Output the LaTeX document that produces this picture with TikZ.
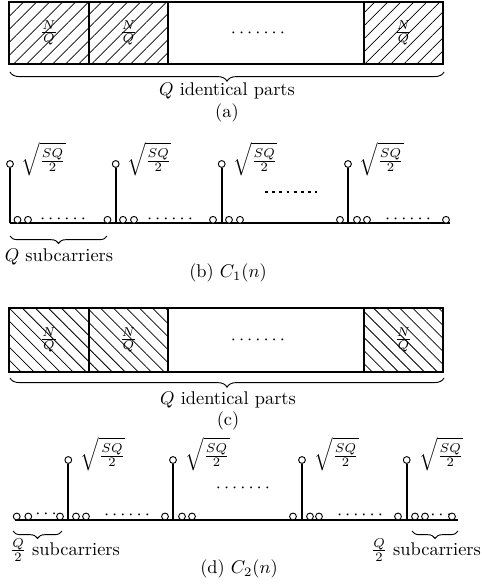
\documentclass[tikz,border=0pt]{standalone}
\usetikzlibrary{patterns.meta,decorations.pathreplacing}
\newcommand\mydotsseven{$\mathinner{\cdotp\cdotp\cdotp\cdotp\cdotp\cdotp\cdotp}$}
\newcommand\mydotssix{$\mathinner{\cdotp\cdotp\cdotp\cdotp\cdotp\cdotp}$}
\newcommand\mydotsthree{$\mathinner{\cdotp\cdotp\cdotp}$}
\begin{document}
\begin{tikzpicture}[x=0.5435pt,y=-0.5435pt,
  cell/.style={draw, line width=1.1pt},
  hatchA/.style={pattern={Lines[angle=45,distance=5pt,line width=0.4pt]}},
  hatchC/.style={pattern={Lines[angle=-45,distance=5pt,line width=0.4pt]}},
  sub/.style={circle, draw, fill=white, line width=0.5pt, inner sep=0pt, minimum size=3.7pt},
  axisline/.style={line width=1pt},
  stemline/.style={line width=1pt},
  amp/.style={anchor=west, inner sep=0pt},
  bracestyle/.style={decorate, decoration={brace, mirror, amplitude=#1}, line width=0.5pt},
  bracestyle/.default=5pt,
  midline/.style={dash pattern=on 1.6pt off 2.3pt, line width=1.4pt}
]
\useasboundingbox (0,0) rectangle (481,585);

% ---------- (a)
\draw[cell,hatchA] (9,2) rectangle (89,64);
\draw[cell,hatchA] (89,2) rectangle (168,64);
\draw[cell] (168,2) rectangle (364,64);
\draw[cell,hatchA] (364,2) rectangle (443,64);
\node (a1) at (49,33) {$\frac{N}{Q}$};
\node (a2) at (128.5,33) {$\frac{N}{Q}$};
\node (a3) at (258,33) {\mydotsseven};
\node (a4) at (403.5,33) {$\frac{N}{Q}$};
\coordinate (abl) at (10,72);
\coordinate (abr) at (444,72);
\draw[bracestyle] (abl) -- (abr);
\node (atext) at (227,91) {$Q$ identical parts};
\node (acap) at (227,113) {(a)};

% ---------- (b)
\coordinate (bl) at (10,223.3);
\coordinate (br) at (450,223.3);
\draw[axisline] (bl) -- (br);
\foreach \x [count=\i] in {10,115.7,221.7,348}{
  \coordinate (bg\i) at (\x,223.3);
  \node[sub] (bt\i) at (\x,164) {};
  \draw[stemline] (bg\i) -- (bt\i.south);
  \node[amp] (bl\i) at (\x+11,159) {$\sqrt{\frac{SQ}{2}}$};
}
\foreach \x [count=\i] in {17.5,28,107.5,123,134,213,229,240,340,357,367,446}{
  \node[sub] (bc\i) at (\x,219.8) {};
}
\node (bd1) at (63,219) {\mydotssix};
\node (bd2) at (170,219) {\mydotssix};
\node (bd3) at (408,219) {\mydotssix};
\coordinate (bm1) at (265,192);
\coordinate (bm2) at (317,192);
\draw[midline] (bm1) -- (bm2);
\coordinate (bbl) at (10,236);
\coordinate (bbr) at (107,236);
\draw[bracestyle=4pt] (bbl) -- (bbr);
\node (btext) at (59,257) {$Q$ subcarriers};
\node (bcap) at (228,273) {(b) $C_1(n)$};

% ---------- (c)
\draw[cell,hatchC] (9,308) rectangle (89,372);
\draw[cell,hatchC] (89,308) rectangle (168,372);
\draw[cell] (168,308) rectangle (364,372);
\draw[cell,hatchC] (364,308) rectangle (443,372);
\node (c1) at (49,340) {$\frac{N}{Q}$};
\node (c2) at (128.5,340) {$\frac{N}{Q}$};
\node (c3) at (258,340) {\mydotsseven};
\node (c4) at (403.5,340) {$\frac{N}{Q}$};
\coordinate (cbl) at (10,378);
\coordinate (cbr) at (444,378);
\draw[bracestyle] (cbl) -- (cbr);
\node (ctext) at (228,400) {$Q$ identical parts};
\node (ccap) at (228,421) {(c)};

% ---------- (d)
\coordinate (dl) at (15,520);
\coordinate (dr) at (458,520);
\draw[axisline] (dl) -- (dr);
\foreach \x [count=\i] in {68.3,173,302,406.7}{
  \coordinate (dg\i) at (\x,520);
  \node[sub] (dt\i) at (\x,460) {};
  \draw[stemline] (dg\i) -- (dt\i.south);
  \node[amp] (dlb\i) at (\x+12,454) {$\sqrt{\frac{SQ}{2}}$};
}
\node (dd1) at (46,514) {\mydotsthree};
\node (dd2) at (127,515.5) {\mydotssix};
\node (dd3) at (360,515.5) {\mydotssix};
\node (dd4) at (441,515.5) {\mydotsthree};
\foreach \x [count=\i] in {16.7,28.3,60,76,86,165,182,192,293,310,319,398,415,425,452}{
  \node[sub] (dc\i) at (\x,516.5) {};
}
\node (dm) at (243,488) {\mydotsseven};
\coordinate (dbl1) at (13,531);
\coordinate (dbr1) at (62,531);
\draw[bracestyle=4pt] (dbl1) -- (dbr1);
\coordinate (dbl2) at (412,531);
\coordinate (dbr2) at (458,531);
\draw[bracestyle=4pt] (dbl2) -- (dbr2);
\node (dtext1) at (65,550) {$\frac{Q}{2}$ subcarriers};
\node (dtext2) at (426,550) {$\frac{Q}{2}$ subcarriers};
\node (dcap) at (239,569) {(d) $C_2(n)$};
\end{tikzpicture}
\end{document}
